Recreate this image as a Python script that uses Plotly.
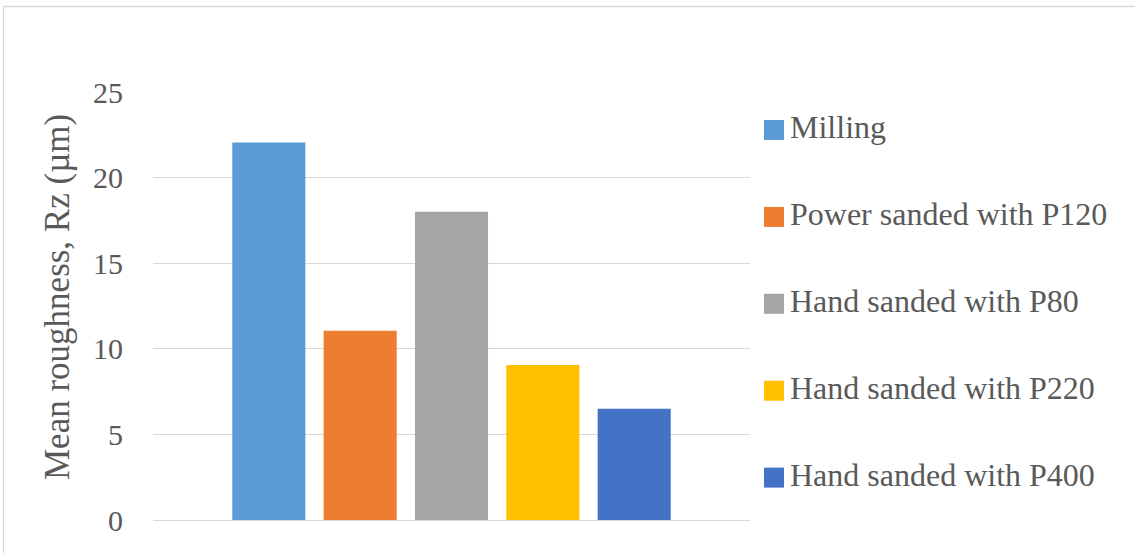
import plotly.graph_objects as go

# Mean surface roughness by finishing method
methods = [
    "Milling",
    "Power sanded with P120",
    "Hand sanded with P80",
    "Hand sanded with P220",
    "Hand sanded with P400",
]
rz_values = [22.05, 11.05, 18.0, 9.05, 6.5]
colors = ["#5B9BD5", "#ED7D31", "#A5A5A5", "#FFC000", "#4472C4"]
y_ticks = [0, 5, 10, 15, 20, 25]

W, H = 1135, 553
M_L, M_R, M_T, M_B = 153, 385, 92, 33
PW, PH = W - M_L - M_R, H - M_T - M_B

FONT = "Palatino Linotype, Book Antiqua, Palatino, Liberation Serif, serif"
TXT = "#595959"


def px_x(px):
    return (px - M_L) / PW


def px_y(py):
    return (H - M_B - py) / PH


fig = go.Figure()
for name, val, col in zip(methods, rz_values, colors):
    fig.add_trace(go.Bar(
        x=[0], y=[val], name=name, marker_color=col,
        marker_line_width=0, showlegend=False,
    ))

# Legend: square swatch plus label for each method
shapes = []
annotations = []
leg_top, leg_step, sw = 130, 86.9, 20
for i, (name, col) in enumerate(zip(methods, colors)):
    cy = leg_top + i * leg_step
    shapes.append(dict(
        type="rect", xref="paper", yref="paper",
        x0=px_x(764), x1=px_x(764 + sw),
        y0=px_y(cy + sw / 2), y1=px_y(cy - sw / 2),
        fillcolor=col, line_width=0,
    ))
    annotations.append(dict(
        xref="paper", yref="paper", x=px_x(788), y=px_y(cy - 3),
        text=name, showarrow=False, xanchor="left", yanchor="middle",
        font=dict(family=FONT, size=32, color=TXT),
    ))

# Y-axis title
annotations.append(dict(
    xref="paper", yref="paper", x=px_x(57), y=px_y(297),
    text="Mean roughness, Rz (µm)", textangle=-90, showarrow=False,
    xanchor="center", yanchor="middle",
    font=dict(family=FONT, size=35, color=TXT),
))

# Chart area border (top and left edges)
shapes.append(dict(
    type="line", xref="paper", yref="paper",
    x0=px_x(3.5), x1=px_x(3.5), y0=px_y(560), y1=px_y(6.5),
    line=dict(color="#D9D9D9", width=1.2),
))
shapes.append(dict(
    type="line", xref="paper", yref="paper",
    x0=px_x(3), x1=px_x(1140), y0=px_y(6.5), y1=px_y(6.5),
    line=dict(color="#D9D9D9", width=1.5),
))

fig.update_layout(
    width=W, height=H,
    margin=dict(l=M_L, r=M_R, t=M_T, b=M_B, pad=0),
    paper_bgcolor="white", plot_bgcolor="white",
    barmode="group", bargap=0.235, bargroupgap=0.2,
    shapes=shapes, annotations=annotations,
    font=dict(family=FONT, color=TXT),
)
fig.update_xaxes(
    range=[-0.5, 0.5], showticklabels=False, showgrid=False,
    zeroline=False, showline=False, fixedrange=True,
)
fig.update_yaxes(
    range=[0, 25], tickvals=y_ticks, showgrid=True, gridcolor="#D9D9D9",
    gridwidth=1, zeroline=True, zerolinecolor="#D9D9D9", zerolinewidth=1,
    showline=False, ticks="", ticklabelstandoff=29,
    tickfont=dict(family=FONT, size=30, color=TXT),
)

fig.write_html("out.html", config={"displayModeBar": False})
